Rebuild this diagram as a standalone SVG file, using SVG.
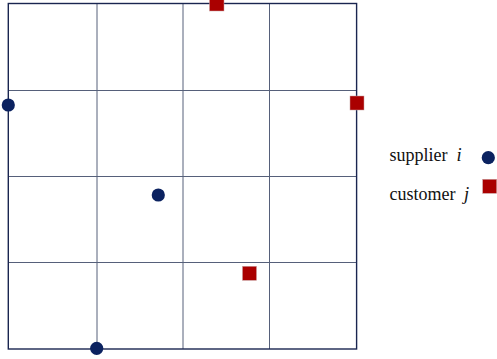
<svg xmlns="http://www.w3.org/2000/svg" width="497" height="359" viewBox="0 0 497 359">
<style>
.grid{stroke:#56607a;stroke-width:1;fill:none}
.frame{stroke:#1a2550;stroke-width:1.4;fill:none}
.sup{fill:#0b2260}
.cus{fill:#aa0000;stroke:#c8a0a0;stroke-width:0.5}
.lbl{font-family:"Liberation Serif","DejaVu Serif",serif;font-size:18.5px;fill:#111}
.it{font-style:italic}
</style>
<g id="connectors">
<line class="grid" x1="97" y1="3.5" x2="97" y2="349"/>
<line class="grid" x1="183" y1="3.5" x2="183" y2="349"/>
<line class="grid" x1="269.5" y1="3.5" x2="269.5" y2="349"/>
<line class="grid" x1="8" y1="90.5" x2="356.5" y2="90.5"/>
<line class="grid" x1="8" y1="176.5" x2="356.5" y2="176.5"/>
<line class="grid" x1="8" y1="262.5" x2="356.5" y2="262.5"/>
<rect class="frame" x="8.3" y="3.5" width="348.3" height="345.5"/>
</g>
<g id="supplier1"><circle class="sup" cx="8.3" cy="105" r="6.6"/></g>
<g id="supplier2"><circle class="sup" cx="158.3" cy="195" r="6.6"/></g>
<g id="supplier3"><circle class="sup" cx="96.7" cy="348.3" r="6.6"/></g>
<g id="customer1"><rect class="cus" x="209.5" y="-3" width="14.5" height="14"/></g>
<g id="customer2"><rect class="cus" x="350" y="96" width="14" height="14"/></g>
<g id="customer3"><rect class="cus" x="242.5" y="266.3" width="14" height="14"/></g>
<g id="legend">
<text class="lbl" x="389.5" y="161" textLength="58" lengthAdjust="spacingAndGlyphs">supplier</text>
<text class="lbl it" x="456.5" y="161">i</text>
<circle class="sup" cx="488.3" cy="157.7" r="6.6"/>
<text class="lbl" x="389.5" y="200" textLength="66" lengthAdjust="spacingAndGlyphs">customer</text>
<text class="lbl it" x="464" y="200">j</text>
<rect class="cus" x="482.7" y="179.3" width="14" height="14"/>
</g>
</svg>
